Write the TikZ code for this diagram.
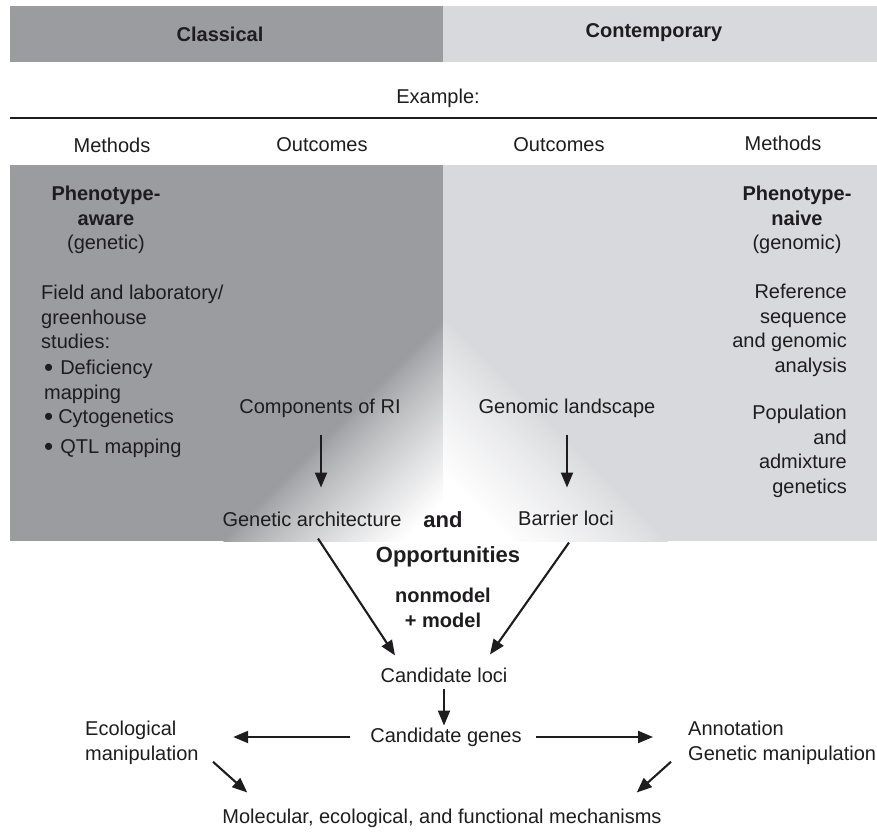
\documentclass[tikz,border=0pt]{standalone}
\usepackage{fontspec}
\setmainfont{Liberation Sans}
\usetikzlibrary{arrows.meta,calc}
\definecolor{darkp}{RGB}{155,156,160}
\definecolor{lightp}{RGB}{216,217,220}
\definecolor{ink}{RGB}{30,28,30}
\newcommand{\bigbul}{\raisebox{-1.6pt}{\scalebox{1.3}{•}}}
\begin{document}
\begin{tikzpicture}[x=1pt,y=-1pt,
  txt/.style={font=\fontsize{20}{24.5}\selectfont, inner sep=0pt, text=ink},
  btxt/.style={font=\fontsize{20}{24.5}\selectfont\bfseries, inner sep=0pt, text=ink},
  bigb/.style={font=\fontsize{22}{26}\selectfont\bfseries, inner sep=0pt, text=ink},
  arr/.style={draw=ink, -{Triangle[length=15pt,width=12pt]}, line width=2.1pt},
]
\useasboundingbox (0,0) rectangle (877,834);
% header bar
\fill[darkp] (10,6) rectangle (443,62);
\fill[lightp] (443,6) rectangle (877,62);
% main panel left with V-shaped glow
\begin{scope}
\clip (10,165) rectangle (443,541);
\fill[darkp] (10,165) rectangle (443,541);
\foreach \i in {0,...,44}{
  \pgfmathsetmacro\ca{765+\i*4}
  \pgfmathsetmacro\cb{\ca+4.8}
  \pgfmathsetmacro\p{100*((\i+0.5)/45)^0.8}
  \fill[white!\p!darkp] (\ca,0) -- (\cb,0) -- (\cb-1000,1000) -- (\ca-1000,1000) -- cycle;
}
\fill[white] (945,0) -- (2000,0) -- (1000,1000) -- (-55,1000) -- cycle;
\end{scope}
% main panel right
\begin{scope}
\clip (443,165) rectangle (877,541);
\fill[lightp] (443,165) rectangle (877,541);
\foreach \i in {0,...,39}{
  \pgfmathsetmacro\ca{760+\i*4}
  \pgfmathsetmacro\cb{\ca+4.8}
  \pgfmathsetmacro\p{100*((\i+0.5)/40)^0.8}
  \fill[white!\p!lightp] (886-\ca,0) -- (886-\cb,0) -- (1886-\cb,1000) -- (1886-\ca,1000) -- cycle;
}
\fill[white] (886-920,0) -- (-2000,0) -- (-1000,1000) -- (1886-920,1000) -- cycle;
\end{scope}
% rule
\draw[line width=2.6pt, ink] (10,118) -- (877,118);

% header texts
\node[btxt] (classical) at (220,34) {Classical};
\node[btxt] (contemp) at (654,33) {Contemporary};
\node[txt] (example) at (438,98) {Example:};
\node[txt] (meth1) at (112,145) {Methods};
\node[txt] (out1) at (322,145) {Outcomes};
\node[txt] (out2) at (559,145) {Outcomes};
\node[txt] (meth2) at (783,143) {Methods};

% left methods
\node[txt, align=center, anchor=north] (aware) at (106,186) {\textbf{Phenotype-}\\\textbf{aware}\\(genetic)};
\node[txt, align=left, anchor=north west] (field) at (41,285) {Field and laboratory/\\greenhouse\\studies:};
\node[txt, align=left, anchor=north west] (defic) at (44,360) {\bigbul\hspace{7pt}Deficiency\\mapping};
\node[txt, anchor=north west] (cyto) at (44,409) {\bigbul\hspace{5pt}Cytogenetics};
\node[txt, anchor=north west] (qtl) at (44,439) {\bigbul\hspace{7pt}QTL mapping};

% right methods
\node[txt, align=center, anchor=north] (naive) at (797,186) {\textbf{Phenotype-}\\\textbf{naive}\\(genomic)};
\node[txt, align=right, anchor=north east] (refseq) at (847,284) {Reference\\sequence\\and genomic\\analysis};
\node[txt, align=right, anchor=north east] (popgen) at (847,405) {Population\\and\\admixture\\genetics};

% outcomes
\node[txt] (comp) at (320,408) {Components of RI};
\node[txt] (arch) at (312,519) {Genetic architecture};
\node[txt] (land) at (567,408) {Genomic landscape};
\node[txt] (barrier) at (566,518) {Barrier loci};
\node[bigb] (and) at (443,520) {and};
\node[bigb] (opp) at (448,557) {Opportunities};
\node[btxt, align=center] (model) at (443,608) {nonmodel\\+ model};

\node[txt] (loci) at (444,675) {Candidate loci};
\node[txt] (genes) at (446,737) {Candidate genes};
\node[txt, align=left, anchor=west] (ecol) at (85,743) {Ecological\\manipulation};
\node[txt, align=left, anchor=west] (annot) at (688,743) {Annotation\\Genetic manipulation};
\node[txt] (mech) at (442,818) {Molecular, ecological, and functional mechanisms};

% arrows
\draw[arr] ($(comp.south)+(1,17)$) -- ($(comp.south)+(1,70)$);
\draw[arr] ($(land.south)+(0,17)$) -- ($(land.south)+(0,70)$);
\draw[arr] ($(arch.south)+(6,12)$) -- ($(loci.north)+(-49,-12)$);
\draw[arr] ($(barrier.south)+(3,17)$) -- ($(loci.north)+(46,-13)$);
\draw[arr] ($(loci.south)+(0,6)$) -- ($(loci.south)+(0,43)$);
\draw[arr] ($(genes.west)+(-20,0)$) -- ($(genes.west)+(-137,0)$);
\draw[arr] ($(genes.east)+(14,0)$) -- ($(annot.west |- genes.east)+(-35,0)$);
\draw[arr] ($(ecol.south west)+(128,-3)$) -- ($(mech.north west)+(25,-16)$);
\draw[arr] ($(annot.south west)+(-17,-3)$) -- ($(mech.north east)+(-25,-16)$);
\end{tikzpicture}
\end{document}
